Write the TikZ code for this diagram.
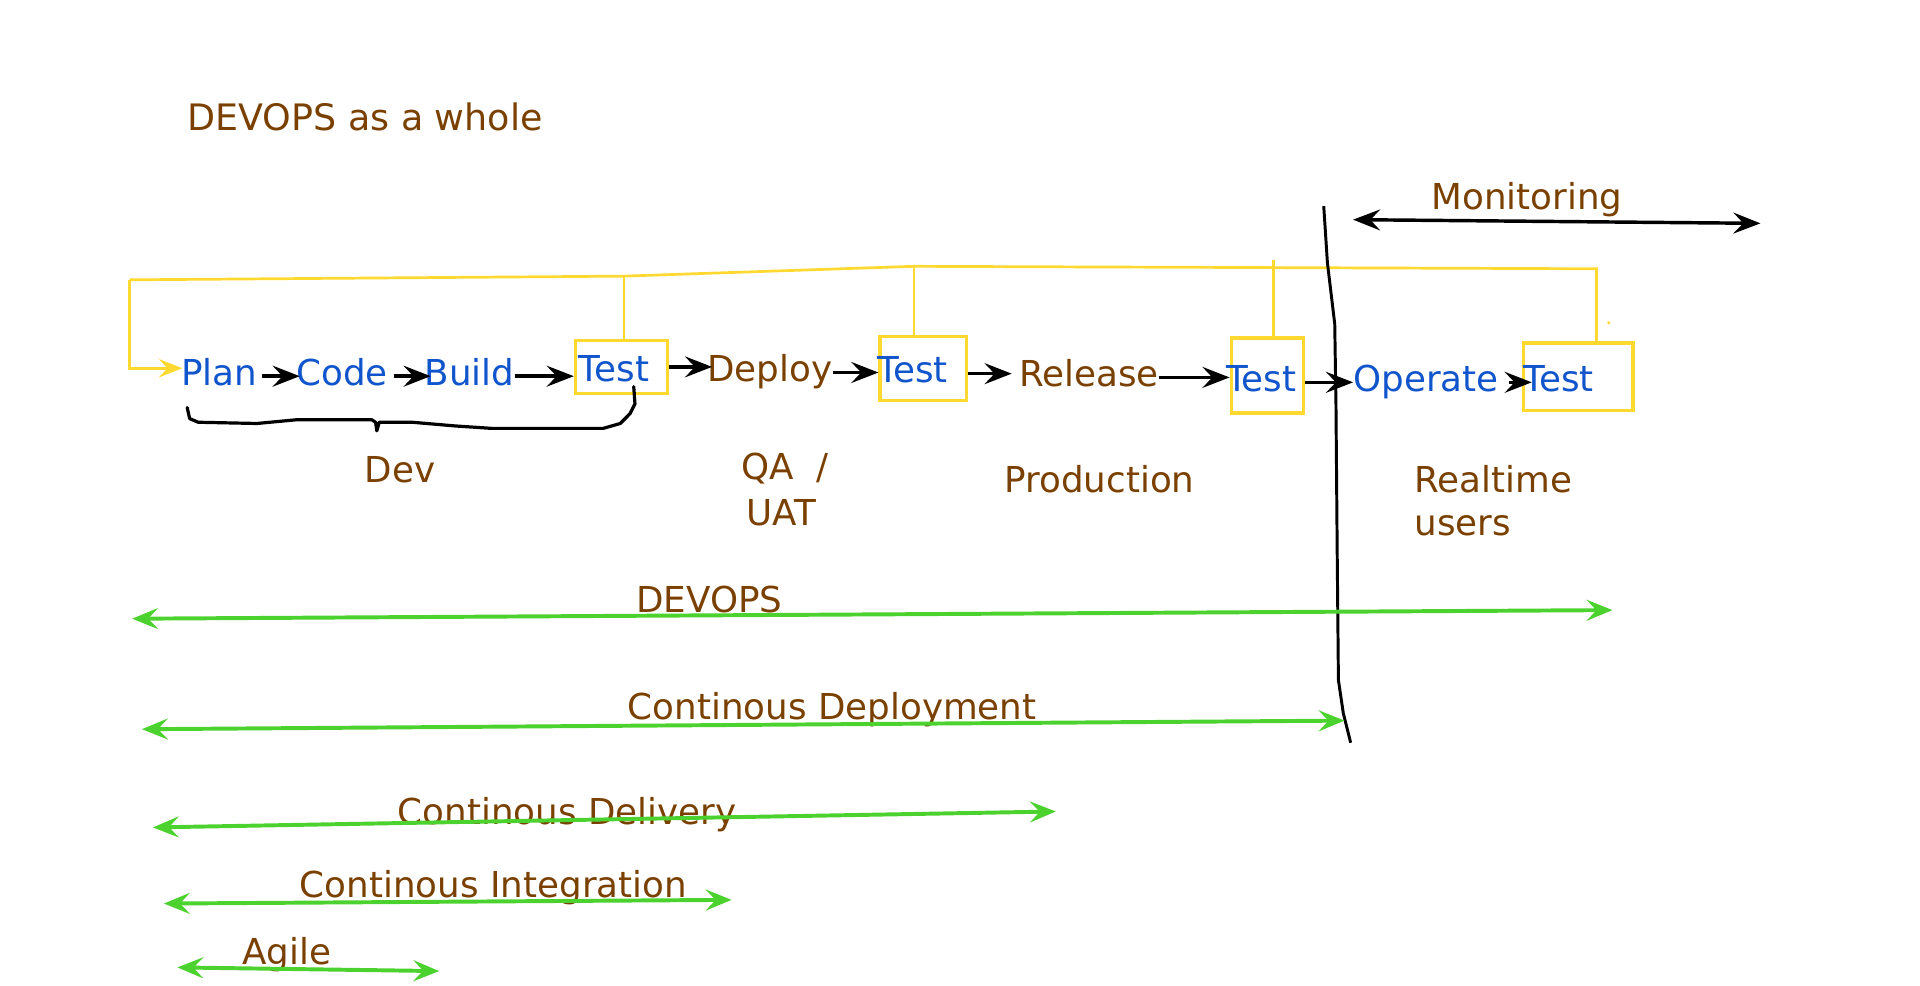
\documentclass[tikz,border=0pt]{standalone}
\usepackage{fontspec}
\setmainfont{DejaVu Sans}
\usetikzlibrary{arrows.meta}
\definecolor{brn}{RGB}{122,64,0}
\definecolor{blu}{RGB}{17,85,204}
\definecolor{ylw}{RGB}{255,217,47}
\definecolor{grn}{RGB}{76,210,46}
\begin{document}
\begin{tikzpicture}[
  txt/.style={inner sep=0pt, anchor=base west, font=\fontsize{29}{34}\selectfont, text height=21pt, text depth=6pt, xshift=-2pt},
  bl/.style={txt,text=blu},
  br/.style={txt,text=brn},
  tbox/.style={draw=ylw, line width=2.7pt, inner sep=0pt, anchor=north west},
  btip/.tip={Stealth[length=22pt,width=17pt,inset=8pt]},
  gtip/.tip={Stealth[length=21pt,width=17pt,inset=8pt]},
  flow/.style={-btip, line width=2.8pt, black},
  span/.style={gtip-gtip, line width=3.2pt, grn},
  yl/.style={draw=ylw, line width=2.2pt}]
\useasboundingbox (0pt,0pt) rectangle (1560pt,-801pt);
\begin{scope}[x=0.994pt,y=-0.9976pt,xshift=2pt,yshift=1.1pt]

% title
\node[br, font=\fontsize{29.6}{35}\selectfont] (title) at (153,107) {DEVOPS as a whole};

% boxes
\node[tbox, minimum width=75pt, minimum height=43pt] (box1) at (467,277) {};
\node[tbox, minimum width=70pt, minimum height=52pt] (box2) at (716,274) {};
\node[tbox, minimum width=59pt, minimum height=61pt] (box3) at (1003,275) {};
\node[tbox, minimum width=89pt, minimum height=55pt] (box4) at (1242,279) {};

% main row
\node[bl] (plan) at (148,315) {Plan};
\node[bl] (code) at (242,315) {Code};
\node[bl] (build) at (347,315) {Build};
\node[bl] (t1) at (473,312) {Test};
\node[br] (deploy) at (578,312) {Deploy};
\node[bl] (t2) at (717,313) {Test};
\node[br] (release) at (833,316) {Release};
\node[bl] (t3) at (1002,320) {Test};
\node[bl] (operate) at (1106,320) {Operate};
\node[bl] (t4) at (1245,320) {Test};

% flow arrows
\draw[flow] ([xshift=4pt]plan.east) -- ([xshift=3pt]code.west);
\draw[flow] ([xshift=5pt]code.east) -- ([xshift=5pt]build.west);
\draw[flow] (build.east) -- (build.east -| box1.west);
\draw[flow] (box1.east) -- ([xshift=4pt]box1.east -| deploy.west);
\draw[flow] (deploy.east) -- (deploy.east -| box2.west);
\draw[flow] ([yshift=-4pt]box2.east) -- ([yshift=-4pt,xshift=-6pt]box2.east -| release.west);
\draw[flow] (release.east) -- (release.east -| box3.west);
\draw[flow] (box3.east |- operate.west) -- (operate.west);
\draw[flow] ([xshift=8pt]operate.east) -- ([xshift=8pt]operate.east -| box4.west);

% yellow tree
\coordinate (yA) at (104,229);
\coordinate (yB) at (508,226);
\coordinate (yC) at (745,218);
\coordinate (yD) at (1303,220);
\coordinate (yE) at (1039,213);
\coordinate (yF) at (104,301);
\draw[yl] (yA) -- (yB) -- (yC) -- (yD) -- (yD |- box4.north);
\draw[yl] (yB) -- (yB |- box1.north);
\draw[yl] (yC) -- (yC |- box2.north);
\draw[yl] (yE) -- (yE |- box3.north);
\draw[yl, -{Stealth[length=19pt,width=15pt,inset=7pt]}] (yA) -- (yF) -- ([xshift=1pt]yF -| plan.west);
\fill[ylw] (1313,264) circle (1.4pt);

% Dev brace
\draw[line width=2.6pt, line join=round, line cap=round]
  (151,333) -- (153,342) -- (160,345) -- (208,346) -- (240,343) -- (302,343) -- (305,345)
  -- (306,352) -- (308,345) -- (335,345) -- (370,348) -- (400,350) -- (491,350)
  -- (505,346) -- (513,338) -- (517,330) -- (516,316);

% stage labels
\node[br] (dev) at (298,394) {Dev};
\node[br] (qa) at (606,392) {QA\ \ /};
\node[br] (uat) at (610,429) {UAT};
\node[br] (prod) at (821,402) {Production};
\node[br] (rt) at (1156,402) {Realtime};
\node[br] (users) at (1156,437) {users};

% separator
\draw[line width=2.4pt, line join=round]
  (1080,169) -- (1083,215) -- (1089,265) -- (1090,330) -- (1091,450) -- (1092,555) -- (1096,582) -- (1102,606);

% monitoring
\node[br] (mon) at (1170,172) {Monitoring};
\coordinate (mL) at (1104,180);
\coordinate (mR) at (1437,183);
\draw[line width=2.8pt, btip-btip] (mL) -- (mR);

% green spans
\node[br] (lDevops) at (520,500) {DEVOPS};
\node[br] (lDeploy) at (513,587) {Continous Deployment};
\node[br] (lDeliv) at (325,673) {Continous Delivery};
\node[br] (lInt) at (245,732) {Continous Integration};
\node[br] (lAgile) at (198,787) {Agile};

\coordinate (g1a) at (106,505); \coordinate (g1b) at (1316,498);
\coordinate (g2a) at (114,595); \coordinate (g2b) at (1097,588);
\coordinate (g3a) at (123,675); \coordinate (g3b) at (861,662);
\coordinate (g4a) at (132,737); \coordinate (g4b) at (596,734);
\coordinate (g5a) at (143,789); \coordinate (g5b) at (357,792);
\draw[span] (g1a) -- (g1b);
\draw[span] (g2a) -- (g2b);
\draw[span] (g3a) -- (g3b);
\draw[span] (g4a) -- (g4b);
\draw[span] (g5a) -- (g5b);
\end{scope}
\end{tikzpicture}
\end{document}
